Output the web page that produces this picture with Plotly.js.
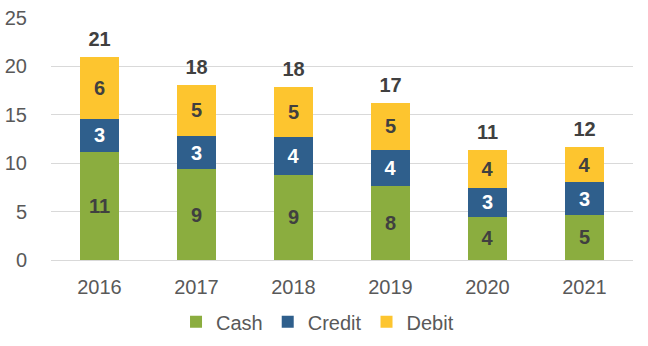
<!DOCTYPE html>
<html><head><meta charset="utf-8">
<script src="https://cdn.plot.ly/plotly-3.0.1.min.js"></script>
<style>html,body{margin:0;padding:0;background:#fff}#chart{width:648px;height:346px}</style>
</head><body><div id="chart"></div>
<script>
const years = ['2016','2017','2018','2019','2020','2021'];
const cash = [11.2, 9.4, 8.8, 7.65, 4.45, 4.65];
const credit = [3.4, 3.4, 3.9, 3.7, 3.0, 3.4];
const debit = [6.4, 5.3, 5.2, 4.9, 3.95, 3.6];
const cashLabels = ['11','9','9','8','4','5'];
const creditLabels = ['3','3','4','4','3','3'];
const debitLabels = ['6','5','5','5','4','4'];
const totalLabels = ['21','18','18','17','11','12'];

const font = 'Liberation Sans, Arial, sans-serif';
function bar(name, y, text, color, tcolor){
  return {type:'bar', name:name, x:years, y:y, text:text, textposition:'inside', insidetextanchor:'middle',
    textangle:0, constraintext:'none', marker:{color:color}, hoverinfo:'skip',
    textfont:{family:font, size:20, color:tcolor, weight:'bold'}};
}
const data = [
  bar('Cash', cash, cashLabels, '#8BAD3F', '#404040'),
  bar('Credit', credit, creditLabels, '#2F5F8C', '#ffffff'),
  bar('Debit', debit, debitLabels, '#FDC52F', '#404040')
];
const totals = years.map((yr,i)=>cash[i]+credit[i]+debit[i]);
data.push({type:'scatter', mode:'markers+text', x:years, y:totals, text:totalLabels, textposition:'top center',
  marker:{size:8, opacity:0}, showlegend:false, hoverinfo:'skip', cliponaxis:false,
  textfont:{family:font, size:20, color:'#404040', weight:'bold'}});
const layout = {
  width:648, height:346, barmode:'stack', bargap:0.6,
  margin:{l:51, r:15, t:18, b:86},
  paper_bgcolor:'#fff', plot_bgcolor:'#fff',
  font:{family:font, color:'#595959', size:20},
  xaxis:{type:'category', range:[-0.5,5.5], showgrid:false, showline:true, linecolor:'#d9d9d9', linewidth:1, ticks:'outside', ticklen:9, tickcolor:'rgba(0,0,0,0)', tickfont:{size:20, color:'#595959'}},
  yaxis:{range:[0,25], dtick:5, gridcolor:'#d9d9d9', gridwidth:1, zeroline:false, showline:false, ticks:'outside', ticklen:19, tickcolor:'rgba(0,0,0,0)', tickfont:{size:20, color:'#595959'}},
  legend:{orientation:'h', xref:'container', yref:'container', x:0.49, xanchor:'center', y:0.07, yanchor:'middle', font:{size:20, color:'#595959'}, traceorder:'normal'},
  showlegend:true
};
Plotly.newPlot('chart', data, layout, {displayModeBar:false});
</script></body></html>
